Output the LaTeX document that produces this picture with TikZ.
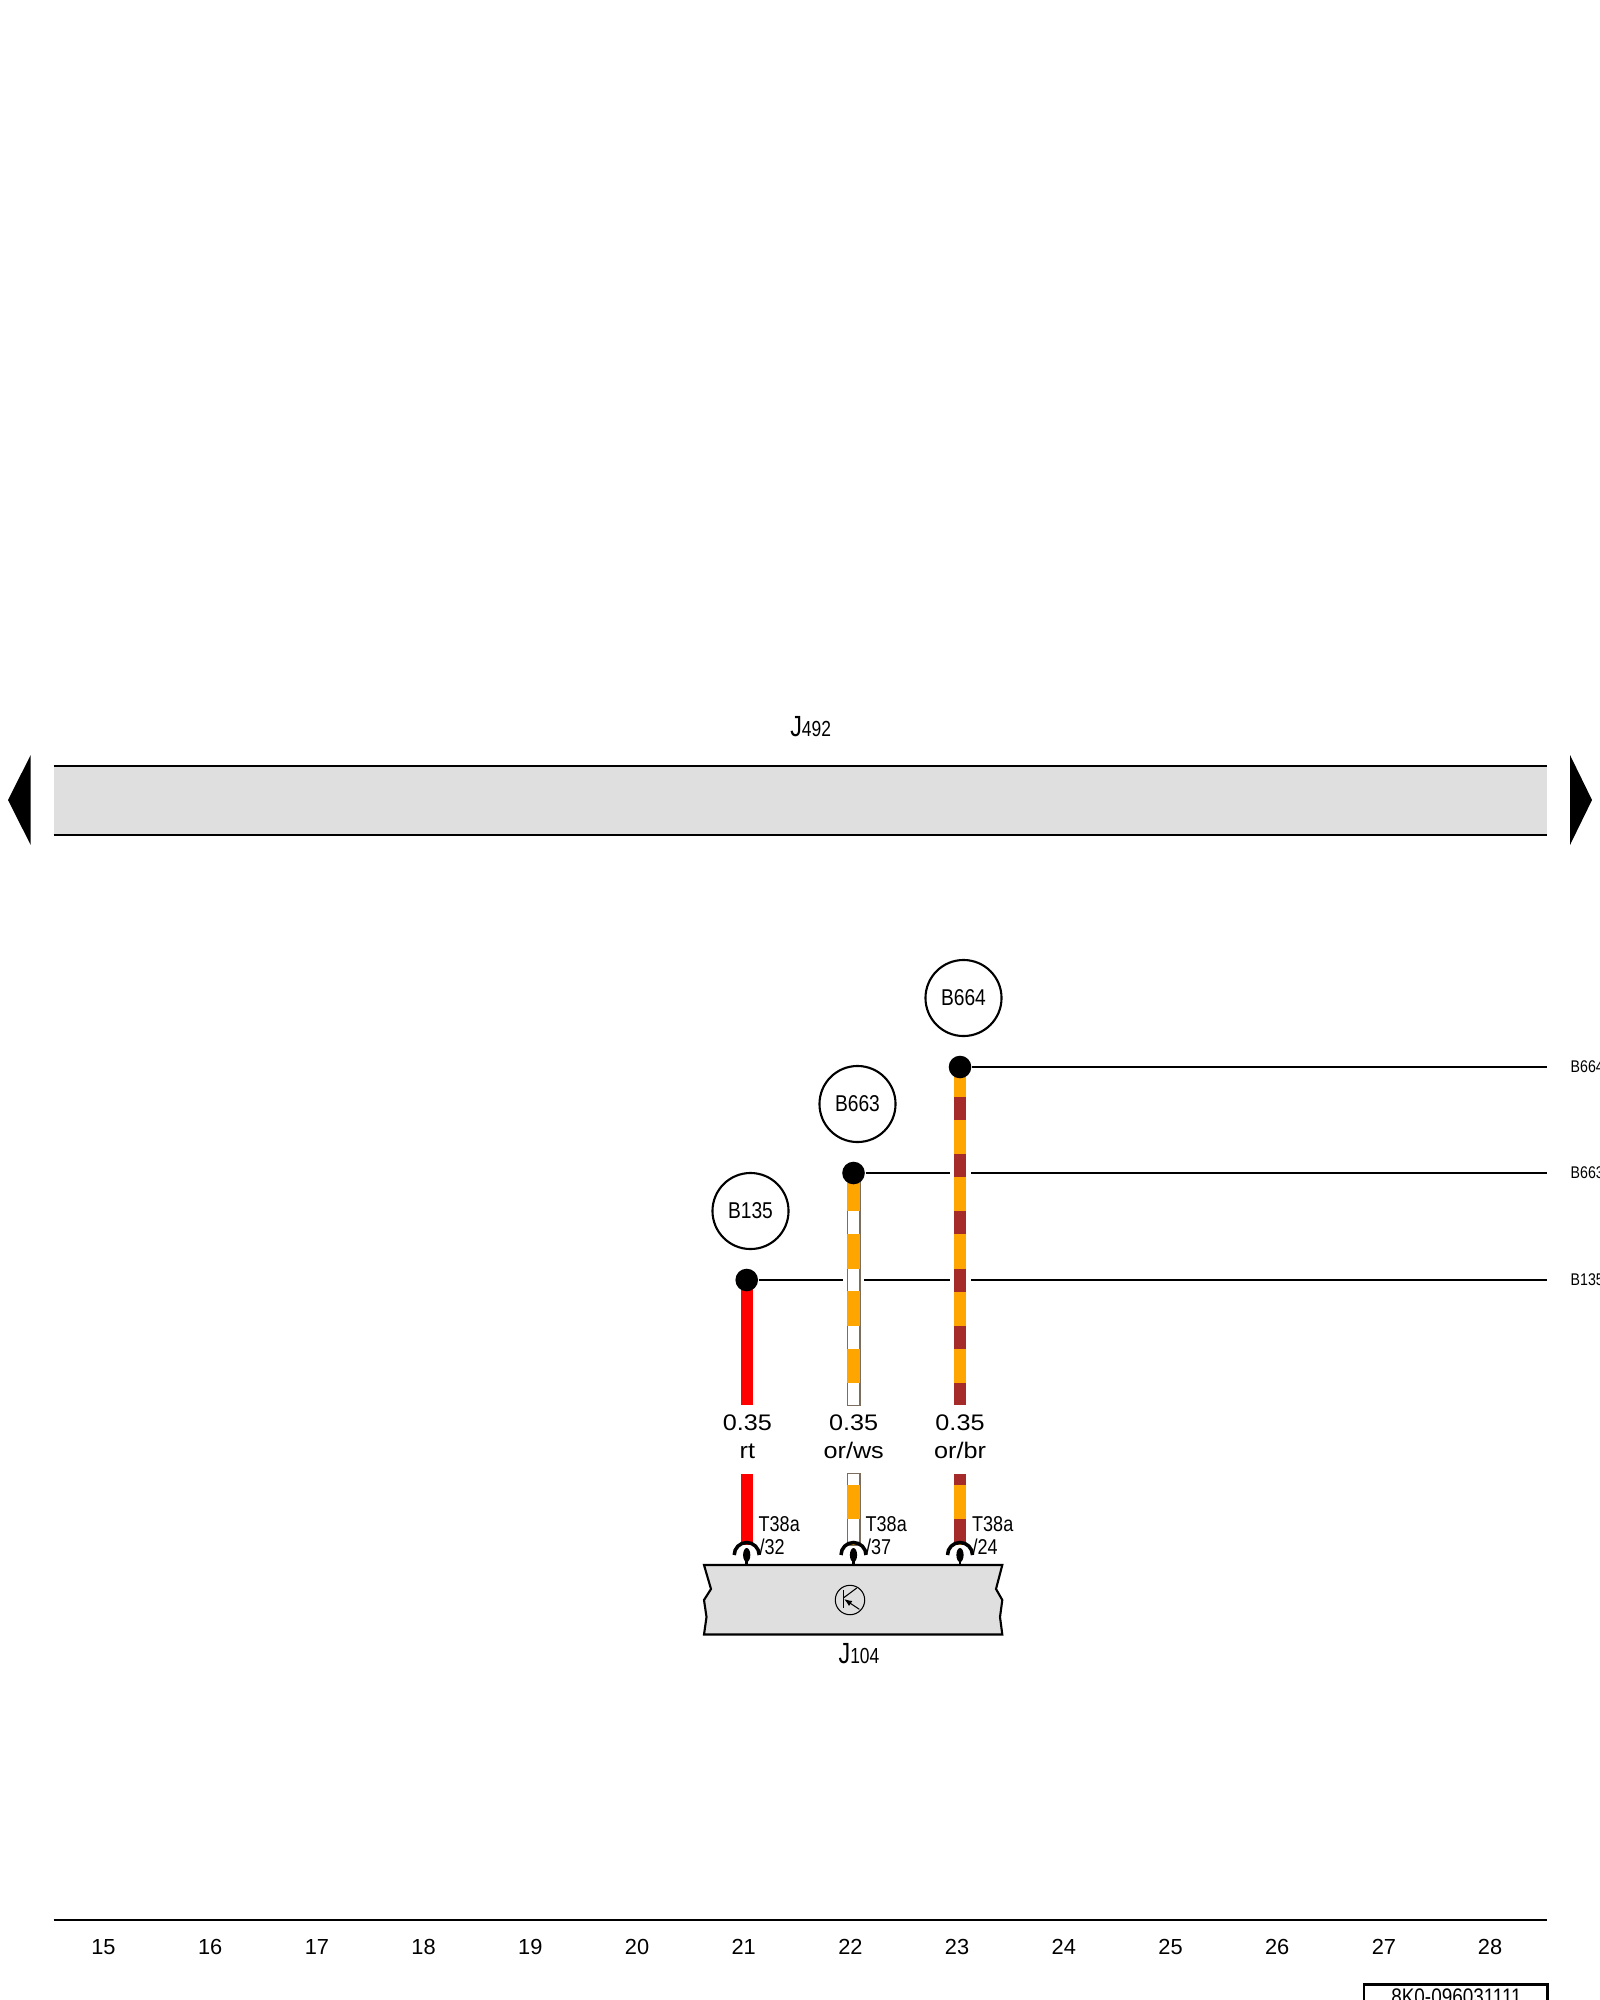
\documentclass[tikz,border=0pt]{standalone}
\usepackage{fontspec}
\setmainfont{Liberation Sans}
\newfontfamily\narrowfont[FakeStretch=0.84]{Liberation Sans}
\newfontfamily\thinfont[FakeStretch=0.8]{Liberation Sans}
\newfontfamily\widefont[FakeStretch=1.12]{Liberation Sans}
\usetikzlibrary{arrows.meta,positioning,calc}
\pgfdeclarelayer{bg}
\pgfsetlayers{bg,main}
\definecolor{wireorange}{HTML}{FFA500}
\definecolor{wirebrown}{HTML}{A52A2A}
\definecolor{wirered}{HTML}{FF0000}
\definecolor{wireedge}{HTML}{7A6E5E}
\definecolor{panelgray}{HTML}{DFDFDF}
\tikzset{
  sheetline/.style={line width=0.6pt},
  wirebody/.style={line width=0.118cm},
  wireside/.style={line width=0.14cm,color=wireedge,shorten <=-0.01cm,shorten >=-0.01cm},
  wirewhite/.style={line width=0.112cm,color=white},
  wirefull/.style={line width=0.135cm},
  wiredot/.style={circle,fill=black,inner sep=0,minimum size=0.226cm},
  tag/.style={circle,draw,sheetline,inner sep=0,minimum size=0.76cm,font=\narrowfont\fontsize{6.5}{7}\selectfont},
  endlabel/.style={anchor=west,inner sep=0,font=\narrowfont\fontsize{4.8}{5}\selectfont},
  wirelabel/.style={anchor=base,inner sep=0,font=\widefont\fontsize{6.4}{7}\selectfont},
  pinlabel/.style={anchor=base west,inner sep=0,font=\narrowfont\fontsize{6.1}{7}\selectfont},
  sheetlabel/.style={anchor=base,inner sep=0,font=\narrowfont\fontsize{6.4}{7}\selectfont},
  unitlabel/.style={anchor=base,inner sep=0,font=\thinfont\fontsize{6.2}{7}\selectfont},
  gridlabel/.style={anchor=base,inner sep=0,font=\fontsize{6.2}{7}\selectfont},
  pinarc/.style={line width=1pt},
  pinstem/.style={line width=0.7pt}
}
\newcommand{\bigJ}{{\fontsize{8.3}{9}\selectfont J}}
\begin{document}
\begin{tikzpicture}[x=0.01cm,y=-0.01cm]
    \useasboundingbox (0,0) rectangle (1600,2000);

    % top panel
    \coordinate (panelnw) at (53.5,766);
    \coordinate (panelne) at (1547,766);
    \coordinate (panelsw) at (53.5,835);
    \coordinate (panelse) at (1547,835);
    \fill [panelgray] (panelnw) rectangle (panelse);
    \draw [sheetline] (panelnw) -- (panelne);
    \draw [sheetline] (panelsw) -- (panelse);
    \fill (8,800) -- (30.7,755) -- (30.7,845) -- cycle;
    \fill (1592,800) -- (1570,755) -- (1570,845) -- cycle;
    \node [unitlabel] (j492) at (810.7,736) {\bigJ 492};

    % wire ends and dots
    \node [wiredot] (b135dot) at (746.7,1280) {};
    \node [wiredot] (b663dot) at (853.5,1173) {};
    \node [wiredot] (b664dot) at (960,1067) {};
    \coordinate (rtup) at (746.7,1405);
    \coordinate (wsup) at (853.5,1405);
    \coordinate (brup) at (960,1405);
    \coordinate (rttop) at (746.7,1474);
    \coordinate (wstop) at (853.5,1474);
    \coordinate (brtop) at (960,1474);
    \coordinate (rtlow) at (746.7,1545);
    \coordinate (wslow) at (853.5,1545);
    \coordinate (brlow) at (960,1545);

    \begin{pgfonlayer}{bg}    % wires stay under dots and pins
        \draw [wirebody,wirered] (b135dot.center) -- (rtup);
        \draw [wirebody,wirered] (rttop) -- (rtlow);

        \draw [wireside] (b663dot.center) -- (wsup);
        \draw [wirewhite] (b663dot.center) -- (wsup);
        \draw [wirefull,wireorange,dash pattern=on 0.343cm off 0.229cm,dash phase=0.532cm] (b663dot.center) -- (wsup);
        \draw [wireside] (wstop) -- (wslow);
        \draw [wirewhite] (wstop) -- (wslow);
        \draw [wirefull,wireorange,dash pattern=on 0.343cm off 0.229cm,dash phase=0.462cm] (wstop) -- (wslow);

        \draw [wirebody,wireorange] (b664dot.center) -- (brup);
        \draw [wirebody,wirebrown,dash pattern=on 0.229cm off 0.343cm,dash phase=0.272cm] (b664dot.center) -- (brup);
        \draw [wirebody,wireorange] (brtop) -- (brlow);
        \draw [wirebody,wirebrown,dash pattern=on 0.229cm off 0.343cm,dash phase=0.119cm] (brtop) -- (brlow);
    \end{pgfonlayer}

    % horizontal runs
    \coordinate (b664end) at (1547,1067);
    \coordinate (b663gapa) at (950,1173);
    \coordinate (b663gapb) at (971,1173);
    \coordinate (b663end) at (1547,1173);
    \coordinate (b135gapa) at (843,1280);
    \coordinate (b135gapb) at (864,1280);
    \coordinate (b135gapc) at (950,1280);
    \coordinate (b135gapd) at (971,1280);
    \coordinate (b135end) at (1547,1280);
    \draw [sheetline] (b664dot) -- (b664end);
    \draw [sheetline] (b663dot) -- (b663gapa);
    \draw [sheetline] (b663gapb) -- (b663end);
    \draw [sheetline] (b135dot) -- (b135gapa);
    \draw [sheetline] (b135gapb) -- (b135gapc);
    \draw [sheetline] (b135gapd) -- (b135end);

    \node [tag] (b135tag) at (750.5,1211) {B135};
    \node [tag] (b663tag) at (857.5,1104) {B663};
    \node [tag] (b664tag) at (963.5,998) {B664};
    \node [endlabel] (b664out) at (1570,1067) {B664};
    \node [endlabel] (b663out) at (1570,1173) {B663};
    \node [endlabel] (b135out) at (1570,1280) {B135};

    \node [wirelabel] (size32) at (747.3,1430.7) {0.35};
    \node [wirelabel] (size37) at (853.7,1430.7) {0.35};
    \node [wirelabel] (size24) at (960,1430.7) {0.35};
    \node [wirelabel] (col32) at (747.3,1458.5) {rt};
    \node [wirelabel] (col37) at (853.7,1458.5) {or/ws};
    \node [wirelabel] (col24) at (960,1458.5) {or/br};

    \node [pinlabel] (t32) at (758,1531) {T38a};
    \node [pinlabel] (t37) at (865,1531) {T38a};
    \node [pinlabel] (t24) at (971.5,1531) {T38a};
    \node [pinlabel] (n32) at (759,1554) {/32};
    \node [pinlabel] (n37) at (865.5,1554) {/37};
    \node [pinlabel] (n24) at (972,1554) {/24};

    % control unit
    \filldraw [sheetline,fill=panelgray] (704,1565) -- (1002.3,1565) -- (996,1589) -- (1002.3,1600)
        -- (1000,1617) -- (1002.3,1634.5) -- (704,1634.5) -- (706.5,1617) -- (704,1600) -- (711,1589) -- cycle;
    \node [unitlabel] (j104) at (859,1663) {\bigJ 104};

    % pins
    \coordinate (pin32) at (746.7,1555);
    \coordinate (pin37) at (853.5,1555);
    \coordinate (pin24) at (960,1555);
    \coordinate (foot32) at (746.7,1565);
    \coordinate (foot37) at (853.5,1565);
    \coordinate (foot24) at (960,1565);
    \draw [pinarc] ([xshift=-0.125cm]pin32) arc (180:0:0.125cm);
    \draw [pinarc] ([xshift=-0.125cm]pin37) arc (180:0:0.125cm);
    \draw [pinarc] ([xshift=-0.125cm]pin24) arc (180:0:0.125cm);
    \fill (pin32) ellipse (3.6 and 7);
    \fill (pin37) ellipse (3.6 and 7);
    \fill (pin24) ellipse (3.6 and 7);
    \draw [pinstem] (pin32) -- (foot32);
    \draw [pinstem] (pin37) -- (foot37);
    \draw [pinstem] (pin24) -- (foot24);

    % transistor mark
    \node [circle,draw,line width=0.3pt,inner sep=0,minimum size=0.294cm] (qmark) at (850,1600) {};
    \coordinate (qbasea) at (843.5,1590);
    \coordinate (qbaseb) at (843.5,1608);
    \coordinate (qcoll) at (856.7,1588);
    \coordinate (qemit) at (859.3,1609.3);
    \coordinate (qin) at (844,1597.5);
    \coordinate (qtip) at (844,1599);
    \draw [line width=0.3pt] (qbasea) -- (qbaseb);
    \draw [line width=0.3pt] (qin) -- (qcoll);
    \draw [line width=0.3pt,-{Latex[length=0.08cm,width=0.06cm]}] (qemit) -- (qtip);

    % sheet grid
    \coordinate (gridw) at (53.5,1920);
    \coordinate (gride) at (1547,1920);
    \draw [sheetline] (gridw) -- (gride);
    \node [gridlabel] (15) at (103.5,1954) {15};
    \node [gridlabel] (16) at (210.2,1954) {16};
    \node [gridlabel] (17) at (316.9,1954) {17};
    \node [gridlabel] (18) at (423.6,1954) {18};
    \node [gridlabel] (19) at (530.3,1954) {19};
    \node [gridlabel] (20) at (637,1954) {20};
    \node [gridlabel] (21) at (743.7,1954) {21};
    \node [gridlabel] (22) at (850.4,1954) {22};
    \node [gridlabel] (23) at (957.1,1954) {23};
    \node [gridlabel] (24) at (1063.8,1954) {24};
    \node [gridlabel] (25) at (1170.5,1954) {25};
    \node [gridlabel] (26) at (1277.2,1954) {26};
    \node [gridlabel] (27) at (1383.9,1954) {27};
    \node [gridlabel] (28) at (1490,1954) {28};

    \draw [sheetline] (1364,2010) -- (1364,1984.5) -- (1547.5,1984.5) -- (1547.5,2010);
    \node [sheetlabel] (sheetno) at (1456.5,2004) {8K0-096031111};
\end{tikzpicture}
\end{document}
